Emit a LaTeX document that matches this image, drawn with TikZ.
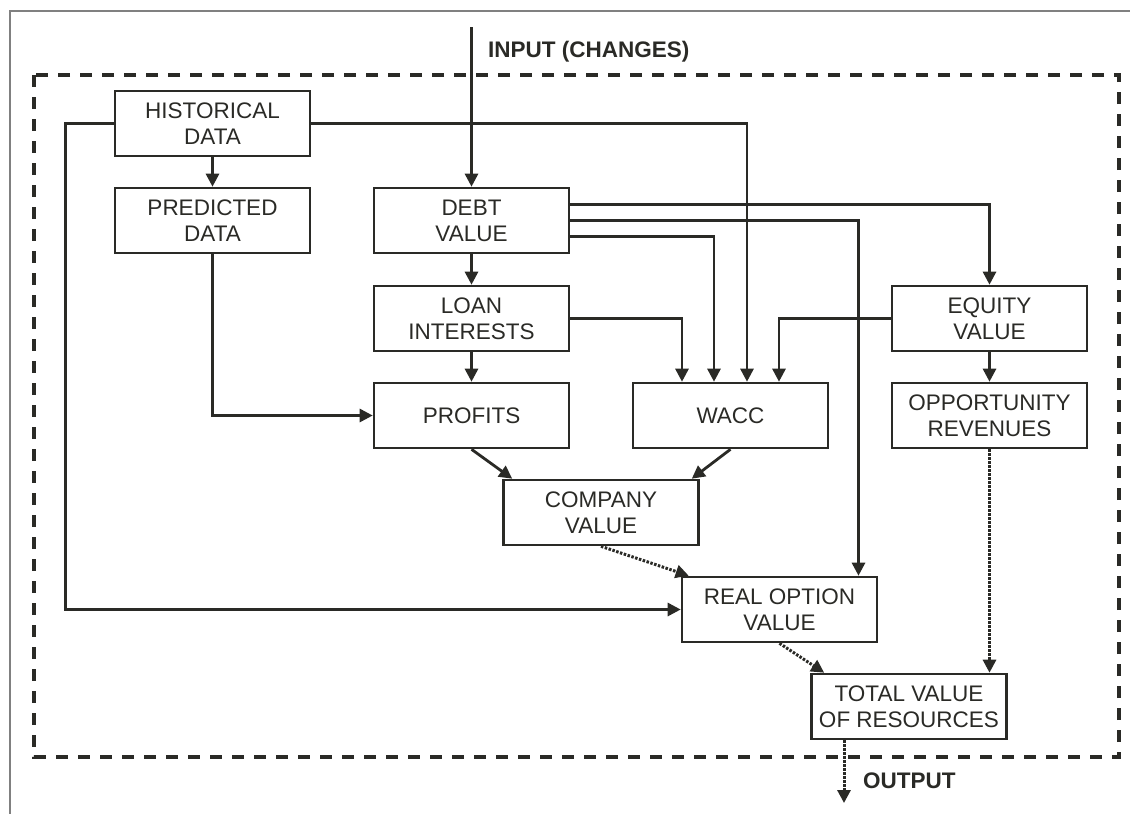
\documentclass[tikz,border=0pt]{standalone}
\usepackage{fontspec}
\setmainfont{Liberation Sans}
\usetikzlibrary{arrows.meta}
\definecolor{ink}{HTML}{2A2A26}
\begin{document}
\begin{tikzpicture}[x=1pt,y=-1pt,
 box/.style={draw=ink,fill=white,line width=2.6pt,minimum width=195pt,minimum height=65pt,inner sep=0pt,align=center,font=\fontsize{22.5}{26}\selectfont,text=ink},
 arr/.style={draw=ink,line width=2.8pt,-{Triangle[width=13pt,length=13pt]}},
 dotarr/.style={draw=ink,line width=3pt,dash pattern=on 2.5pt off 1.5pt,-{Triangle[width=13pt,length=13pt]}},
 frameline/.style={draw=ink,line width=3.2pt,dash pattern=on 12pt off 10pt},
 lbl/.style={font=\bfseries\fontsize{22.5}{26}\selectfont,text=ink,inner sep=0pt,anchor=west}]
\useasboundingbox (0,0) rectangle (1130,814);
% outer frame
\draw[gray,line width=1.5pt] (10,814) -- (10,11) -- (1130,11);
% dashed system boundary
\draw[frameline] (34,75) rectangle (1119,757);
% boxes
\node[box] (hist) at (212.5,123.5) {HISTORICAL\\DATA};
\node[box] (pred) at (212.5,220.5) {PREDICTED\\DATA};
\node[box] (debt) at (471.5,220.5) {DEBT\\VALUE};
\node[box] (loan) at (471.5,318.5) {LOAN\\INTERESTS};
\node[box] (prof) at (471.5,415.5) {PROFITS};
\node[box] (wacc) at (730.5,415.5) {WACC};
\node[box] (equity) at (989.5,318.5) {EQUITY\\VALUE};
\node[box] (opp) at (989.5,415.5) {OPPORTUNITY\\REVENUES};
\node[box] (comp) at (601,512.5) {COMPANY\\VALUE};
\node[box] (rov) at (779.5,609.5) {REAL OPTION\\VALUE};
\node[box] (total) at (909,706.5) {TOTAL VALUE\\OF RESOURCES};
% labels
\node[lbl] (inlbl) at (488,52) {INPUT (CHANGES)};
\node[lbl] (outlbl) at (863,781) {OUTPUT};
\coordinate (in) at (471.5,27);
\coordinate (out) at (844,803);
% connectors
\draw[arr] (in) -- (debt.north);
\draw[arr] (hist) -- (pred);
\draw[arr] (hist.west) -- ++(-48,0) |- (rov.west);
\draw[arr] (hist.east) -| ([xshift=16.5pt]wacc.north);
\draw[arr] ([yshift=16pt]debt.east) -| (equity.north);
\draw[arr] (debt.east) -| ([xshift=79pt]rov.north);
\draw[arr] ([yshift=-16pt]debt.east) -| ([xshift=-16.5pt]wacc.north);
\draw[arr] (debt) -- (loan);
\draw[arr] (loan) -- (prof);
\draw[arr] (loan.east) -| ([xshift=-48.5pt]wacc.north);
\draw[arr] (equity.west) -| ([xshift=48.5pt]wacc.north);
\draw[arr] (equity) -- (opp);
\draw[arr] (pred.south) |- (prof.west);
\draw[arr] (prof.south) -- ([xshift=10pt]comp.north west);
\draw[arr] (wacc.south) -- ([xshift=-8pt]comp.north east);
\draw[dotarr] (comp.south) -- ([xshift=8pt]rov.north west);
\draw[dotarr] (rov.south) -- ([xshift=14pt]total.north west);
\draw[dotarr] (opp.south) -- (opp.south |- total.north);
\draw[dotarr] ([xshift=-65pt]total.south) -- (out);
\end{tikzpicture}
\end{document}
